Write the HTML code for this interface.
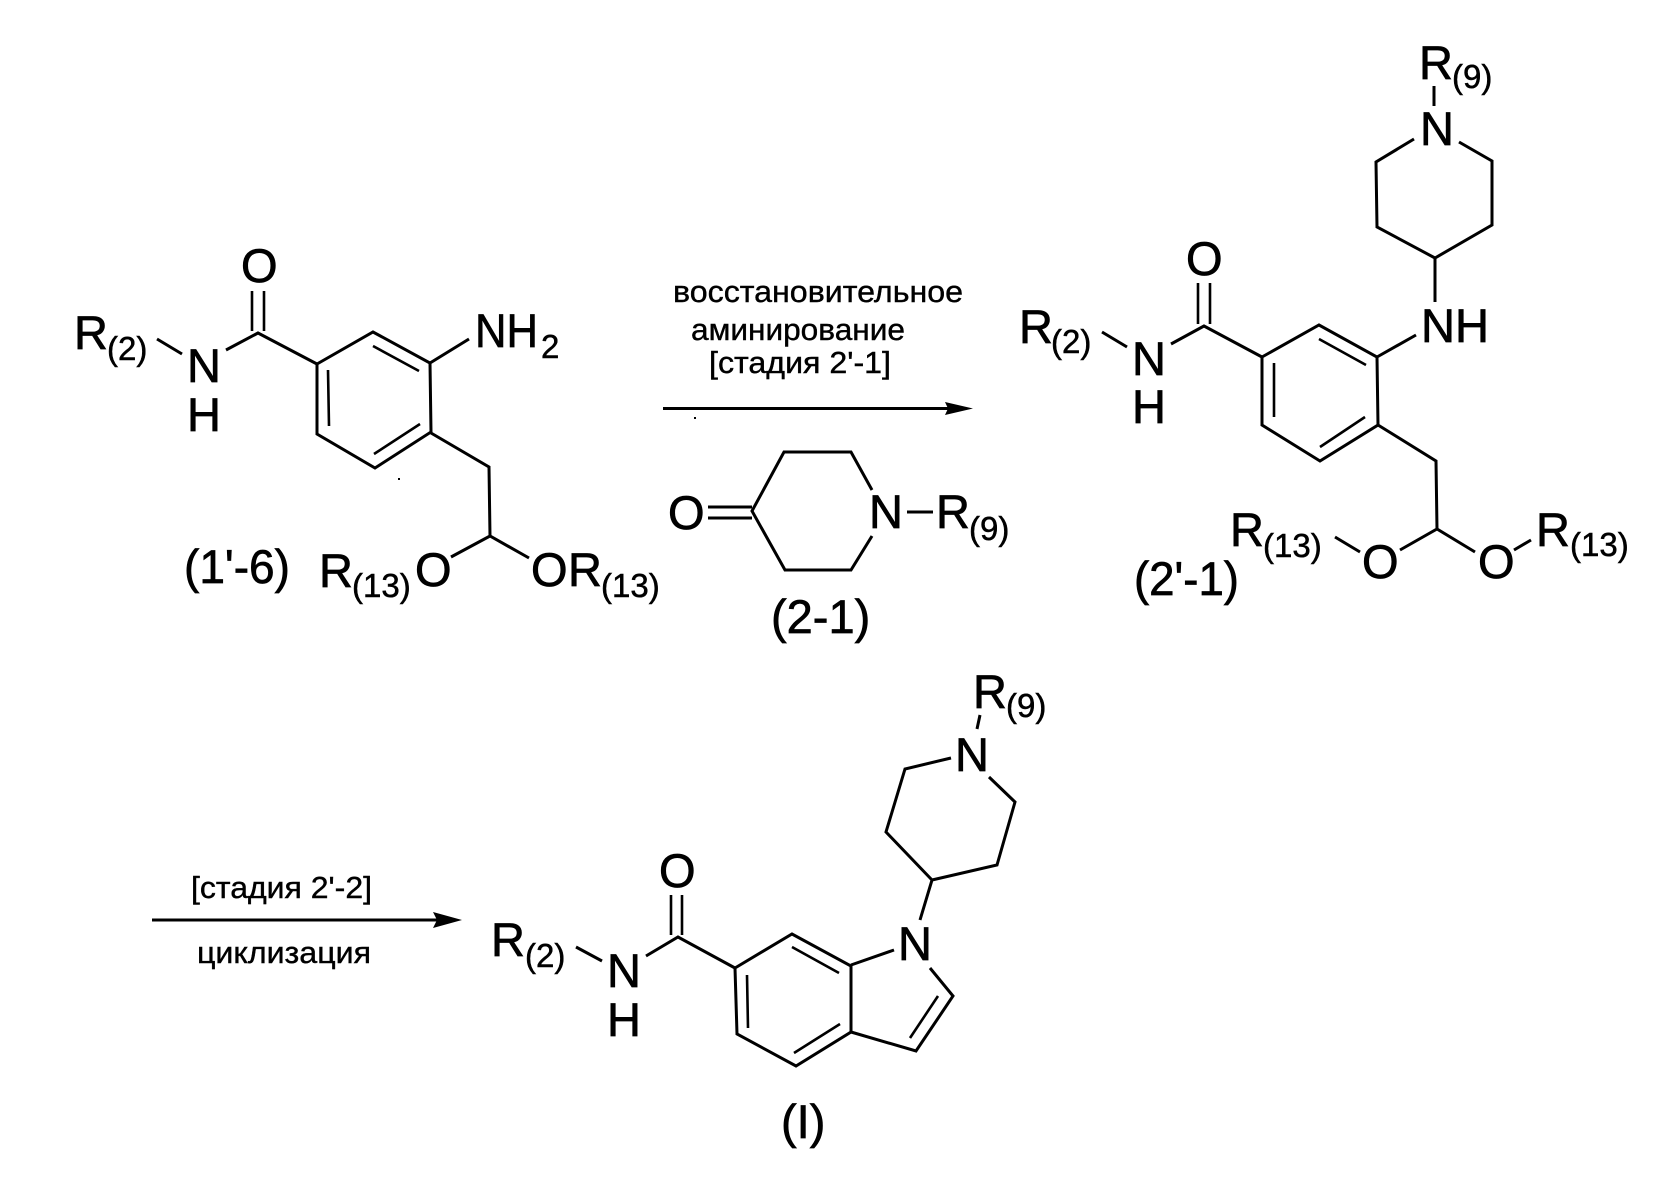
<!DOCTYPE html>
<html><head><meta charset="utf-8"><style>
html,body{margin:0;padding:0;background:#fff}
svg{display:block}
text{font-family:"Liberation Sans",sans-serif;fill:#000;stroke:#000;stroke-width:.7px}
.m{font-size:47px}
.s{font-size:33px;stroke-width:.5px}
.r{font-size:31px;stroke-width:.4px}
path{fill:none;stroke:#000;stroke-width:3;stroke-linejoin:miter;stroke-linecap:butt}
.i{stroke-width:2.6}
</style></head><body>
<svg width="1670" height="1178" viewBox="0 0 1670 1178" xmlns="http://www.w3.org/2000/svg">
<!-- compound 1'-6 -->
<path d="M317 364L373 332L430 363L431 432L375 468L317 434Z"/>
<path class="i" d="M373 346L419 371M328 370L329 426M374 454L420 424"/>
<path d="M317 364L258 333L226 350M157 339L182 354"/>
<path class="i" d="M252 291V331M264 291V331"/>
<path d="M430 363L469 339M431 433L489 467L490 536M451 557L490 536L529 558"/>
<text class="m" x="241" y="282">O</text>
<text class="m" x="74" y="349">R</text><text class="s" x="107" y="360">(2)</text>
<text class="m" x="187" y="382">N</text><text class="m" x="187" y="431">H</text>
<text class="m" x="475" y="347" textLength="63" lengthAdjust="spacingAndGlyphs">NH</text><text class="s" x="541" y="358">2</text>
<text class="m" x="184" y="583" textLength="106" lengthAdjust="spacingAndGlyphs">(1'-6)</text>
<text class="m" x="319" y="587">R</text><text class="s" x="352" y="597">(13)</text><text class="m" x="415" y="586">O</text>
<text class="m" x="531" y="586">O</text><text class="m" x="568" y="586">R</text><text class="s" x="601" y="597">(13)</text>
<rect x="398" y="478" width="2" height="2" fill="#000"/>
<!-- arrow 1 -->
<text class="r" x="673" y="302" textLength="290" lengthAdjust="spacingAndGlyphs">восстановительное</text>
<text class="r" x="691" y="340" textLength="214" lengthAdjust="spacingAndGlyphs">аминирование</text>
<text class="r" x="709" y="373" textLength="182" lengthAdjust="spacingAndGlyphs">[стадия 2'-1]</text>
<path d="M663 408.500H950"/>
<polygon points="945,402 973,408.500 945,415 948,408.500" fill="#000"/>
<rect x="694" y="417" width="2" height="2" fill="#000"/>
<!-- compound 2-1 -->
<path d="M872 490L851 452H784L752 511L785 570H851L872 536M708 507H752M708 518H752M907 512H933"/>
<text class="m" x="668" y="529">O</text>
<text class="m" x="869" y="528">N</text>
<text class="m" x="936" y="528">R</text><text class="s" x="969" y="540">(9)</text>
<text class="m" x="771" y="633">(2-1)</text>
<!-- compound 2'-1 -->
<path d="M1434 86V106M1414 139L1376 162L1377 227L1435 258L1492 225V161L1459 142M1435 258V302M1416 335L1377 357"/>
<path d="M1262 357L1319 325L1377 357L1378 425L1320 461L1262 425Z"/>
<path class="i" d="M1319 339L1366 365M1274 363V417M1320 447L1365 417"/>
<path d="M1262 357L1204 326L1171 344M1102 332L1127 347"/>
<path class="i" d="M1198 283V324M1210 283V324"/>
<path d="M1378 425L1436 461L1437 529M1400 550L1437 529L1475 552M1335 537L1360 552M1514 550L1531 540"/>
<text class="m" x="1419" y="79">R</text><text class="s" x="1452" y="88">(9)</text>
<text class="m" x="1420" y="145">N</text>
<text class="m" x="1421" y="342" textLength="68" lengthAdjust="spacingAndGlyphs">NH</text>
<text class="m" x="1186" y="275">O</text>
<text class="m" x="1019" y="343">R</text><text class="s" x="1051" y="353">(2)</text>
<text class="m" x="1132" y="375">N</text><text class="m" x="1132" y="423">H</text>
<text class="m" x="1362" y="578">O</text><text class="m" x="1478" y="578">O</text>
<text class="m" x="1230" y="546">R</text><text class="s" x="1263" y="557">(13)</text>
<text class="m" x="1536" y="546">R</text><text class="s" x="1570" y="556">(13)</text>
<text class="m" x="1134" y="595" textLength="105" lengthAdjust="spacingAndGlyphs">(2'-1)</text>
<!-- arrow 2 -->
<text class="r" x="191" y="898" textLength="181" lengthAdjust="spacingAndGlyphs">[стадия 2'-2]</text>
<text class="r" x="197" y="963" textLength="174" lengthAdjust="spacingAndGlyphs">циклизация</text>
<path d="M152 920H440"/>
<polygon points="433,912 462,920 433,928 437,920" fill="#000"/>
<!-- compound I -->
<path d="M735 968L792 934L851 966L851 1032L796 1066L737 1034Z"/>
<path class="i" d="M792 947L839 973M747 975L748 1028M794 1053L840 1024"/>
<path d="M735 968L678 937L646 956M576 947L602 961"/>
<path class="i" d="M671 895V935M682 895V935"/>
<path d="M851 965L894 950M930 968L953 996L916 1051L851 1032"/>
<path class="i" d="M938 996L910 1038"/>
<path d="M920 920L932 880L886 832L905 769L951 758M989 777L1015 802L997 865L932 880M980 715L977 729"/>
<text class="m" x="973" y="708">R</text><text class="s" x="1006" y="717">(9)</text>
<text class="m" x="955" y="771">N</text>
<text class="m" x="898" y="960">N</text>
<text class="m" x="659" y="887">O</text>
<text class="m" x="491" y="956">R</text><text class="s" x="525" y="967">(2)</text>
<text class="m" x="607" y="987">N</text><text class="m" x="607" y="1036">H</text>
<text class="m" x="781" y="1138">(I)</text>
</svg>
</body></html>
